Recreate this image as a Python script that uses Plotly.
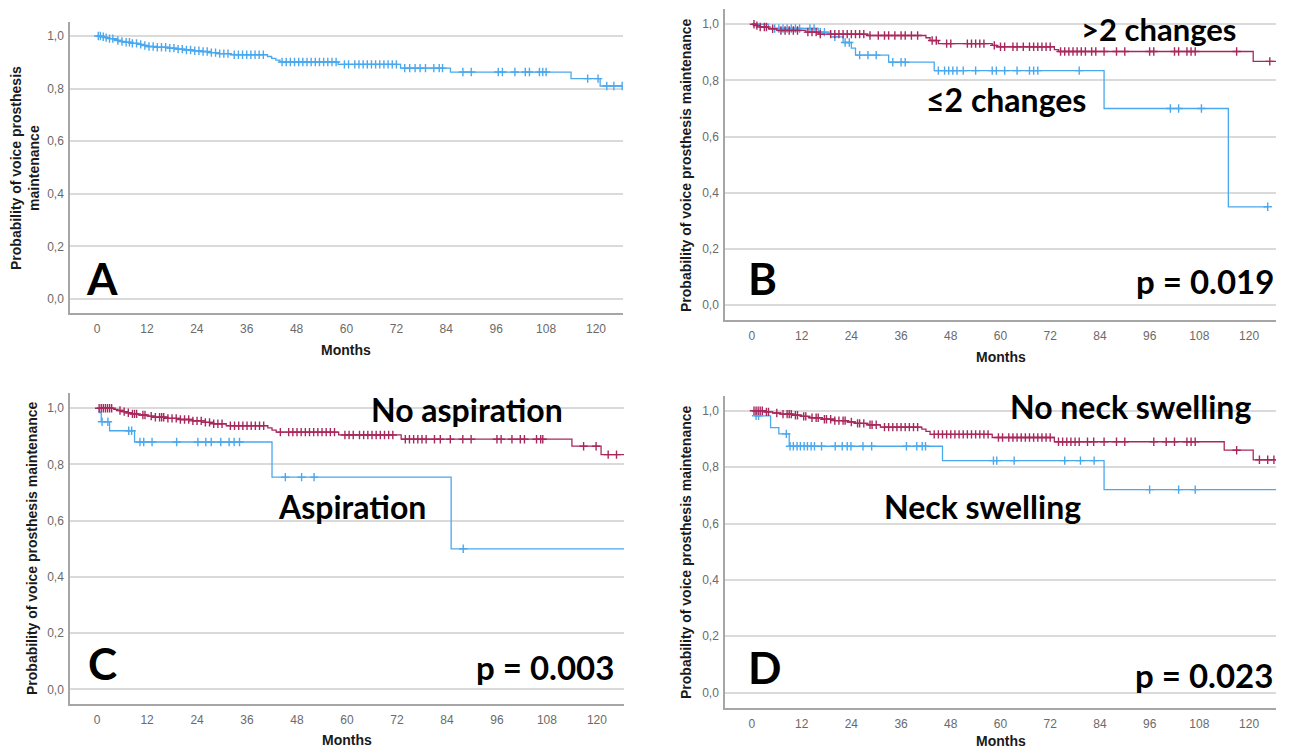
import plotly.graph_objects as go

# The page body has an 8px margin; the figure is laid out in page pixels minus that offset.
OFF = 8
W, H = 1289 - OFF, 750 - OFF

# ---------------- data (months, survival probability) ----------------
# Panel A: overall
A_times = [0, 1, 2, 3, 4, 5, 6, 7, 8, 10, 11, 12, 14, 17, 19, 21, 23, 25, 27, 29, 32, 41, 42, 43, 44, 58, 73, 85, 114, 121]
A_surv = [1.0, 0.997, 0.994, 0.99, 0.987, 0.983, 0.979, 0.976, 0.972, 0.968, 0.964, 0.96, 0.957, 0.954, 0.95, 0.947, 0.944, 0.941, 0.937, 0.933, 0.929, 0.922, 0.915, 0.908, 0.901, 0.892, 0.878, 0.863, 0.838, 0.81]
A_cens = [0.3, 0.8, 1.5, 2.2, 3, 3.8, 5, 6, 7, 7.8, 8.5, 9.5, 10.5, 11.5, 12.5, 13.5, 14.5, 15.5, 16.5, 17.5,
          18.5, 19.5, 20.5, 21.5, 22.5, 23.5, 24.5, 25.5, 26.5, 27.5, 28.5, 29.5, 30.5, 31.5, 33, 34, 35, 36, 37,
          38, 39, 40, 44.5, 45.5, 46.5, 47.5, 48.5, 49.5, 50.5, 51.5, 52.5, 53.5, 54.5, 55.5, 56.5, 57.5, 59.5,
          60.5, 62, 63, 64, 65, 66, 67, 68, 69, 70, 71, 72, 74, 75.2, 76.5, 77.7, 79, 81, 82.3, 83.1, 88, 90,
          96.5, 97.5, 100.5, 103, 104, 106.4, 107.2, 108, 118, 120.5, 122.6, 124.3, 126.3]
A_end = 127

# Panel B: >2 changes (red) vs <=2 changes (blue)
B_red_times = [0, 1, 2, 4, 6, 13, 16, 28, 42, 43, 45, 58, 59, 73, 74, 121]
B_red_surv = [1.0, 0.995, 0.99, 0.984, 0.978, 0.972, 0.965, 0.96, 0.952, 0.942, 0.931, 0.925, 0.92, 0.91, 0.903, 0.868]
B_red_cens = [0.5, 1.2, 2, 3, 3.5, 5, 7, 8, 9, 10, 11, 13.5, 14.5, 15.5, 16.5, 19, 20, 21, 22, 23, 24, 25, 26,
              27, 28.5, 30.5, 32, 33, 34.5, 36, 37, 38.5, 40, 43.5, 44.5, 47, 48, 52, 53, 54, 55, 56, 58.5,
              60, 61, 63, 64, 65.5, 67, 68, 69, 70, 71, 72, 74.5, 75.5, 76.5, 77.5, 78.5, 79.5, 80.5, 82, 83,
              85, 88, 90, 96, 97, 102, 103, 105, 106, 107, 117, 125]
B_red_end = 127
B_blue_times = [0, 4, 16, 19, 22, 24, 25, 33, 44, 85, 115]
B_blue_surv = [1.0, 0.985, 0.972, 0.955, 0.935, 0.915, 0.89, 0.865, 0.835, 0.70, 0.35]
B_blue_cens = [5.5, 6.5, 7.5, 8.5, 9.5, 10.5, 11.5, 14, 15, 16.5, 17.5, 20, 22.5, 23.5, 26, 28, 30, 34, 36, 37,
               45, 46.5, 47.5, 48.5, 49.5, 51, 54, 58, 59, 61, 64, 67, 68, 69, 79, 101, 103, 108.5, 124.5]
B_blue_end = 124.5

# Panel C: no aspiration (red) vs aspiration (blue)
C_red_times = [0, 4, 5, 6, 7, 8, 10, 12, 14, 17, 20, 23, 26, 28, 31, 41, 42, 43, 58, 73, 114, 121]
C_red_surv = [1.0, 0.996, 0.992, 0.988, 0.984, 0.98, 0.976, 0.972, 0.968, 0.964, 0.96, 0.955, 0.95, 0.945,
              0.938, 0.93, 0.922, 0.915, 0.905, 0.89, 0.865, 0.835]
C_red_cens = [0.5, 1, 1.5, 2, 2.5, 3, 3.5, 5.5, 6.5, 7.5, 8.5, 9, 9.5, 11, 11.5, 13, 14, 15, 15.5, 16, 17, 18,
              19, 20, 21, 22, 23, 24, 25, 26, 27, 28, 29, 30, 32, 33, 34, 35, 36, 37, 38, 39, 40, 44, 46, 47,
              48, 49, 50, 51, 52, 53, 54, 55, 56, 57, 59.5, 60.5, 61.5, 63, 64, 65, 66, 67, 68, 69, 70, 71,
              74, 75, 76, 77, 78, 79, 81, 82.4, 84.8, 87.8, 89.8, 96, 97, 99.6, 101.6, 102.6, 105.5, 106.5,
              107, 116.8, 119.8, 122.7, 124.7]
C_red_end = 127
C_blue_times = [0, 0.5, 1, 3, 9, 42, 85]
C_blue_surv = [1.0, 0.985, 0.952, 0.92, 0.88, 0.755, 0.50]
C_blue_cens = [1.2, 2.6, 7.6, 8.3, 10.3, 11.2, 13.2, 19.1, 24.2, 26.1, 27.4, 29.7, 31.7, 32.9, 34.2, 45.2,
               49.1, 52.1, 87.9]
C_blue_end = 127

# Panel D: no neck swelling (red) vs neck swelling (blue)
D_red_times = [0, 3, 5, 7, 10, 12, 14, 17, 20, 23, 25, 28, 31, 41, 42, 43, 58, 73, 114, 121]
D_red_surv = [1.0, 0.996, 0.992, 0.988, 0.984, 0.98, 0.975, 0.97, 0.965, 0.96, 0.955, 0.95, 0.942, 0.935,
              0.927, 0.916, 0.905, 0.89, 0.86, 0.826]
D_red_cens = [0.5, 1, 1.5, 2, 2.5, 3.5, 4, 6, 7.5, 8.5, 9, 9.5, 10.5, 11, 12.5, 13, 14.5, 15.5, 16, 17.5, 18,
              19, 20, 21, 22, 22.5, 24, 25.5, 26, 27, 28.5, 29, 30, 32, 33, 34, 35, 36, 37, 38, 39, 40, 44, 45,
              46, 47, 48, 49, 50, 51, 52, 53, 54, 55, 56, 57, 59.5, 60.5, 62, 63, 64, 65, 66, 67, 68, 69, 70,
              71, 72, 74, 75, 76, 77, 78, 79, 81, 82.5, 85, 88, 90, 97, 100, 102, 105, 106, 107, 117, 122.5,
              124.5, 126]
D_red_end = 127
D_blue_times = [0, 1, 4.5, 6.5, 9, 46, 85]
D_blue_surv = [1.0, 0.982, 0.94, 0.918, 0.874, 0.823, 0.72]
D_blue_cens = [1, 1.6, 8.3, 9.2, 10, 10.9, 11.7, 12.6, 13.4, 14.3, 15.1, 16.8, 20.1, 21.8, 23, 23.9, 26.8,
               28.9, 37.3, 39.8, 41.1, 41.9, 58.3, 59.1, 63.3, 75.5, 79.3, 82.6, 96, 103, 107]
D_blue_end = 127

x_tick_vals = [0, 12, 24, 36, 48, 60, 72, 84, 96, 108, 120]
y_tick_vals = [0.0, 0.2, 0.4, 0.6, 0.8, 1.0]
y_tick_text = ["0,0", "0,2", "0,4", "0,6", "0,8", "1,0"]
y_title = "Probability of voice prosthesis maintenance"
x_title = "Months"

BLUE = "#4aa8ee"
RED = "#a8285c"

# ---------------- helpers ----------------
def surv_at(times, surv, t):
    val = surv[0]
    for ti, si in zip(times, surv):
        if ti <= t:
            val = si
    return val


def fx(px):
    return (px - OFF) / W


def fy(py):
    return 1 - (py - OFF) / H


fig = go.Figure()


def add_curve(idx, times, surv, cens, t_end, color):
    xa = "x" if idx == 1 else f"x{idx}"
    ya = "y" if idx == 1 else f"y{idx}"
    xs = list(times) + [t_end]
    ys = list(surv) + [surv[-1]]
    fig.add_trace(go.Scatter(x=xs, y=ys, mode="lines", line=dict(color=color, width=1.3, shape="hv"),
                             xaxis=xa, yaxis=ya, showlegend=False, hoverinfo="skip"))
    fig.add_trace(go.Scatter(x=list(cens), y=[surv_at(times, surv, c) for c in cens], mode="markers",
                             marker=dict(symbol="cross-thin", size=6, color=color,
                                         line=dict(width=1.4, color=color)),
                             xaxis=xa, yaxis=ya, showlegend=False, hoverinfo="skip"))


add_curve(1, A_times, A_surv, A_cens, A_end, BLUE)
add_curve(2, B_blue_times, B_blue_surv, B_blue_cens, B_blue_end, BLUE)
add_curve(2, B_red_times, B_red_surv, B_red_cens, B_red_end, RED)
add_curve(3, C_blue_times, C_blue_surv, C_blue_cens, C_blue_end, BLUE)
add_curve(3, C_red_times, C_red_surv, C_red_cens, C_red_end, RED)
add_curve(4, D_blue_times, D_blue_surv, D_blue_cens, D_blue_end, BLUE)
add_curve(4, D_red_times, D_red_surv, D_red_cens, D_red_end, RED)

# panel pixel boxes (page pixels): left, right, top, bottom
boxes = {
    1: (70, 623, 21.8, 313),
    2: (725, 1276, 9.1, 320),
    3: (70, 624, 393.1, 704.2),
    4: (725, 1276, 395.5, 707.6),
}

tick_font = dict(family="Liberation Sans, Arial, sans-serif", size=12, color="#6a6a6a")
layout = dict(width=W, height=H, margin=dict(l=0, r=0, t=0, b=0),
              paper_bgcolor="white", plot_bgcolor="white")
for i, (l, r, t, b) in boxes.items():
    sx = "" if i == 1 else str(i)
    layout["xaxis" + sx] = dict(domain=[fx(l), fx(r)], range=[-6.5, 126.5], anchor="y" + sx,
                                tickvals=x_tick_vals, showgrid=False, zeroline=False,
                                showline=True, linecolor="#a6a6a6", linewidth=1.5,
                                ticks="", tickfont=tick_font, ticklabelstandoff=4)
    layout["yaxis" + sx] = dict(domain=[fy(b), fy(t)], range=[-0.053, 1.054], anchor="x" + sx,
                                tickvals=y_tick_vals, ticktext=y_tick_text, showgrid=True,
                                gridcolor="#dadada", gridwidth=1.6, zeroline=False,
                                showline=True, linecolor="#a6a6a6", linewidth=1.5,
                                ticks="", tickfont=tick_font, ticklabelstandoff=2)
fig.update_layout(**layout)


def ann(text, x, y, size, xanchor="center", yanchor="middle", angle=0, family="Lato, sans-serif",
        weight="bold", color="#000000"):
    fig.add_annotation(text=text, x=fx(x), y=fy(y), xref="paper", yref="paper", showarrow=False,
                       xanchor=xanchor, yanchor=yanchor, textangle=angle,
                       font=dict(family=family, size=size, color=color, weight=weight))


axis_font = "Liberation Sans, Arial, sans-serif"
# y-axis titles
ann("Probability of voice prosthesis<br>maintenance", 25, 168, 14, angle=-90, family=axis_font, color="#1a1a1a")
ann(y_title, 686, 165, 14, angle=-90, family=axis_font, color="#1a1a1a")
ann(y_title, 32, 548, 14, angle=-90, family=axis_font, color="#1a1a1a")
ann(y_title, 686, 552, 14, angle=-90, family=axis_font, color="#1a1a1a")
# x-axis titles
ann(x_title, 346, 350, 14, family=axis_font, color="#1a1a1a")
ann(x_title, 1001, 357, 14, family=axis_font, color="#1a1a1a")
ann(x_title, 347, 740, 14, family=axis_font, color="#1a1a1a")
ann(x_title, 1001, 741, 14, family=axis_font, color="#1a1a1a")

# panel letters
ann("A", 84, 278, 44, xanchor="left")
ann("B", 746, 278, 44, xanchor="left")
ann("C", 86, 663, 44, xanchor="left")
ann("D", 746, 667, 44, xanchor="left")

# p-values
ann("p = 0.019", 1276, 281, 33, xanchor="right")
ann("p = 0.003", 616, 667, 33, xanchor="right")
ann("p = 0.023", 1275, 675, 33, xanchor="right")

# group labels
ann(">2 changes", 1158, 29, 31)
ann("≤2 changes", 1006, 100, 32)
ann("No aspiration", 467, 409, 32)
ann("Aspiration", 352, 506, 32)
ann("No neck swelling", 1130, 406, 32)
ann("Neck swelling", 982, 506, 32)

fig.write_html("out.html")
